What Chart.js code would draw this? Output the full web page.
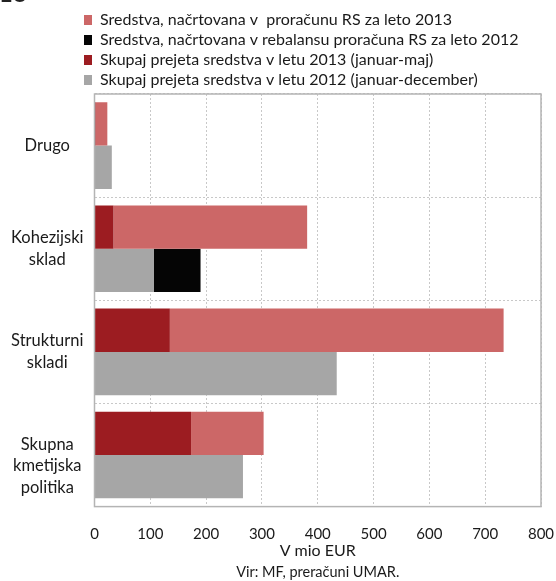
<!DOCTYPE html>
<html>
<head>
<meta charset="utf-8">
<script src="https://cdn.jsdelivr.net/npm/chart.js@4/dist/chart.umd.min.js"></script>
<style>
  body { margin: 0; overflow: hidden; background: #fff; }
  #wrap { position: relative; width: 556px; height: 581px; }
  #eu { position: absolute; left: 0; top: -17px; font: bold 21px Lato, sans-serif; line-height: 22px; color: #222; }
</style>
</head>
<body>
<div id="wrap">
  <canvas id="eu-chart" width="556" height="581"></canvas>
  <div id="eu">EU</div>
</div>
<script>
// categories (leading blank line pushes the last label down like in the source)
const categories = ['Drugo', ['Kohezijski', 'sklad'], ['Strukturni', 'skladi'], ['', 'Skupna', 'kmetijska', 'politika']];

// values in mio EUR
const received2013 = [2, 34, 135, 173];          // januar-maj
const planned2013Rest = [21, 347, 598, 130];     // proračun 2013, on top of received
const received2012 = [31, 106, 434, 266];        // januar-december
const planned2012Rest = [null, 84, null, null];  // rebalans 2012, on top of received

const xTicks = { min: 0, max: 800, step: 100 };

const legendOrder = [1, 3, 0, 2];

Chart.defaults.font.family = 'Lato, sans-serif';
Chart.defaults.color = '#1a1a1a';

const frame = {
  id: 'frame',
  afterLayout: (chart) => {
    // legend items start left of the plot, not at the canvas edge
    chart.legend.left = 80;
  },
  afterDatasetsDraw: (chart) => {
    const { ctx, chartArea: a } = chart;
    ctx.save();
    ctx.strokeStyle = '#b4b4b4';
    ctx.lineWidth = 1.5;
    ctx.strokeRect(a.left, a.top, a.right - a.left, a.bottom - a.top);
    ctx.restore();
  }
};

const datasets = [
  { label: 'Skupaj prejeta sredstva v letu 2013 (januar-maj)', data: received2013, backgroundColor: '#9c1c21', stack: '2013' },
  { label: 'Sredstva, načrtovana v  proračunu RS za leto 2013', data: planned2013Rest, backgroundColor: '#cc6767', stack: '2013' },
  { label: 'Skupaj prejeta sredstva v letu 2012 (januar-december)', data: received2012, backgroundColor: '#a6a6a6', stack: '2012' },
  { label: 'Sredstva, načrtovana v rebalansu proračuna RS za leto 2012', data: planned2012Rest, backgroundColor: '#050505', stack: '2012' }
];

new Chart(document.querySelector('#eu-chart'), {
  type: 'bar',
  data: { labels: categories, datasets },
  options: {
    indexAxis: 'y',
    responsive: false,
    animation: false,
    devicePixelRatio: 1,
    categoryPercentage: 0.84,
    barPercentage: 1,
    layout: { padding: { top: 8, left: 0, right: 15, bottom: 0 } },
    scales: {
      x: {
        stacked: true,
        min: xTicks.min,
        max: xTicks.max,
        afterFit: (scale) => {
          scale.height = 54;
          scale.paddingRight = 0;
        },
        ticks: { stepSize: xTicks.step, padding: 19, font: { size: 15 } },
        grid: { color: '#c8c8c8', drawTicks: false },
        border: { display: false, dash: [2, 2] },
        title: { display: true, text: 'V mio EUR', font: { size: 16 }, padding: 0 }
      },
      y: {
        stacked: true,
        afterFit: (scale) => { scale.width = 94.5; },
        ticks: { padding: 11, crossAlign: 'center', font: { size: 16.5, lineHeight: 1.3 } },
        grid: { color: '#c8c8c8', offset: true, drawTicks: false },
        border: { display: false, dash: [2, 2] }
      }
    },
    plugins: {
      legend: {
        position: 'top',
        align: 'start',
        maxHeight: 86,
        labels: {
          boxWidth: 8,
          boxHeight: 10,
          padding: 4,
          font: { size: 16 },
          sort: (a, b) => legendOrder.indexOf(a.datasetIndex) - legendOrder.indexOf(b.datasetIndex)
        }
      },
      title: {
        display: true,
        position: 'bottom',
        fullSize: false,
        text: 'Vir: MF, preračuni UMAR.',
        font: { size: 14.5, weight: 'normal' },
        padding: { top: 3, bottom: 0 }
      },
      tooltip: { enabled: false }
    }
  },
  plugins: [frame]
});
</script>
</body>
</html>
